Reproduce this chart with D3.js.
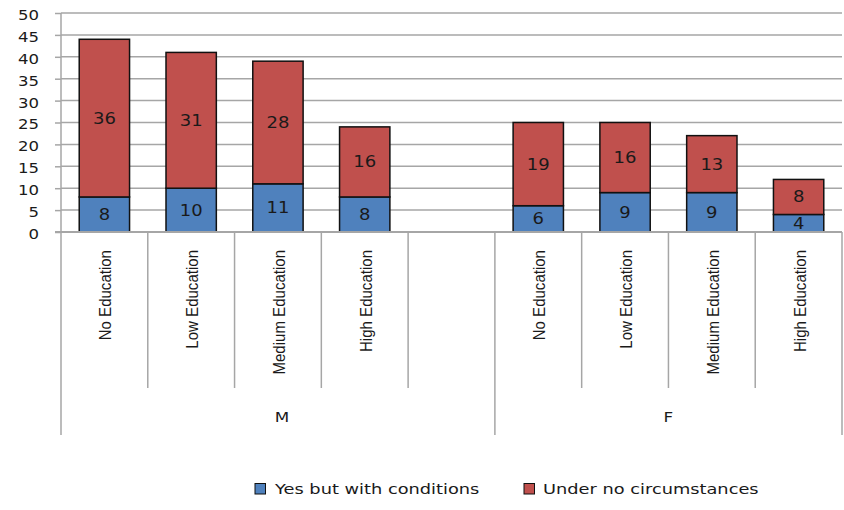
<!DOCTYPE html>
<html>
<head>
<meta charset="utf-8">
<script src="https://cdn.jsdelivr.net/npm/d3@7"></script>
<style>
  body { margin: 0; background: #fff; }
  svg { display: block; }
</style>
</head>
<body>
<svg id="chart" width="844" height="510"></svg>
<script>
// Education level categories, repeated within each sex group
const categories = ["No Education", "Low Education", "Medium Education", "High Education"];
const groups = ["M", "F"];

// Series values per group, in category order
const yesWithConditions = { M: [8, 10, 11, 8], F: [6, 9, 9, 4] };
const underNoCircumstances = { M: [36, 31, 28, 16], F: [19, 16, 13, 8] };

const seriesNames = ["Yes but with conditions", "Under no circumstances"];
const yTicks = [0, 5, 10, 15, 20, 25, 30, 35, 40, 45, 50];

const colors = ["#4F81BD", "#C0504D"];
const wideFont = "DejaVu Sans";
const narrowFont = "Liberation Sans";
const textColor = "#1a1a1a";
const axisColor = "#a6a6a6";

// Slots: four categories for M, an empty slot, then four for F
const slots = [];
groups.forEach((g, gi) => {
  categories.forEach((c, ci) => {
    slots.push({ key: g + "|" + c, group: g, category: c,
      yes: yesWithConditions[g][ci], no: underNoCircumstances[g][ci] });
  });
  if (gi === 0) slots.push({ key: g + "|gap", group: g, category: null });
});

const svg = d3.select("#chart");
const plotLeft = 61, plotRight = 842, plotTop = 13, plotBottom = 232;
const catBottom = 435, sepBottom = 388;

const x = d3.scaleBand().domain(slots.map(d => d.key)).range([plotLeft, plotRight]).padding(0);
const y = d3.scaleLinear().domain([0, 50]).range([plotBottom, plotTop]);

// Horizontal gridlines
svg.append("g")
  .selectAll("line")
  .data(yTicks.filter(t => t > 0))
  .join("line")
  .attr("x1", plotLeft).attr("x2", plotRight)
  .attr("y1", d => y(d)).attr("y2", d => y(d))
  .attr("stroke", axisColor).attr("stroke-width", 1.5);

// Stacked bars with centred value labels
const barW = x.bandwidth() * 0.58;
const barData = slots.filter(d => d.category);
const barG = svg.append("g");
barData.forEach(d => {
  const cx = x(d.key) + x.bandwidth() / 2;
  const segs = [
    { v: d.yes, y0: 0, y1: d.yes, color: colors[0] },
    { v: d.no, y0: d.yes, y1: d.yes + d.no, color: colors[1] }
  ];
  segs.forEach(s => {
    barG.append("rect")
      .attr("x", cx - barW / 2)
      .attr("y", y(s.y1))
      .attr("width", barW)
      .attr("height", y(s.y0) - y(s.y1))
      .attr("fill", s.color)
      .attr("stroke", "#111")
      .attr("stroke-width", 1.5);
    barG.append("text")
      .attr("transform", `translate(${cx},${y((s.y0 + s.y1) / 2)}) scale(1.2,1)`)
      .attr("dy", "0.36em")
      .attr("text-anchor", "middle")
      .attr("font-family", wideFont)
      .attr("font-size", 15)
      .attr("fill", textColor)
      .text(d3.format("d")(s.v));
  });
});

// Y axis
const yAxis = d3.axisLeft(y).tickValues(yTicks).tickSize(6).tickPadding(16);
const yg = svg.append("g").attr("transform", `translate(${plotLeft},0)`).call(yAxis);
yg.select(".domain").remove();
yg.selectAll(".tick line").attr("stroke", axisColor).attr("stroke-width", 1.5);
yg.selectAll(".tick text")
  .attr("x", -22 / 1.18)
  .attr("y", 2)
  .attr("transform", "scale(1.18,1)")
  .attr("font-family", wideFont).attr("font-size", 14).attr("fill", textColor);

// Vertical axis line, extending through the category area
svg.append("line")
  .attr("x1", plotLeft).attr("x2", plotLeft).attr("y1", plotTop).attr("y2", catBottom)
  .attr("stroke", axisColor).attr("stroke-width", 1.5);
// Horizontal base line
svg.append("line")
  .attr("x1", plotLeft - 6).attr("x2", plotRight).attr("y1", plotBottom).attr("y2", plotBottom)
  .attr("stroke", axisColor).attr("stroke-width", 2);

// Category separators: short between categories, full length at group edges
const groupEdges = [x("F|No Education"), plotRight];
slots.forEach((d, i) => {
  if (i === 0) return;
  const xe = x(d.key);
  const full = groupEdges.includes(xe);
  svg.append("line")
    .attr("x1", xe).attr("x2", xe).attr("y1", plotBottom).attr("y2", full ? catBottom : sepBottom)
    .attr("stroke", axisColor).attr("stroke-width", 1.5);
});
svg.append("line")
  .attr("x1", plotRight).attr("x2", plotRight).attr("y1", plotBottom).attr("y2", catBottom)
  .attr("stroke", axisColor).attr("stroke-width", 1.5);

// Rotated category labels
svg.append("g")
  .selectAll("text")
  .data(barData)
  .join("text")
  .attr("transform", d => `translate(${x(d.key) + x.bandwidth() / 2 + 7},250) rotate(-90) scale(0.94,1.07)`)
  .attr("text-anchor", "end")
  .attr("font-family", narrowFont)
  .attr("font-size", 16)
  .attr("fill", textColor)
  .text(d => d.category);

// Group labels
const groupSpan = { M: [plotLeft, x("F|No Education")], F: [x("F|No Education"), plotRight] };
svg.append("g")
  .selectAll("text")
  .data(groups)
  .join("text")
  .attr("transform", g => `translate(${(groupSpan[g][0] + groupSpan[g][1]) / 2 + (g === "M" ? 4 : 0)},422) scale(1.2,1)`)
  .attr("text-anchor", "middle")
  .attr("font-family", wideFont)
  .attr("font-size", 14)
  .attr("fill", textColor)
  .text(g => g);

// Legend
const legendSwatchX = [255, 524];
const legendTextX = [275, 543];
const leg = svg.append("g");
seriesNames.forEach((name, i) => {
  leg.append("rect")
    .attr("x", legendSwatchX[i]).attr("y", 483.5)
    .attr("width", 10.5).attr("height", 10.5)
    .attr("fill", colors[i]).attr("stroke", "#111").attr("stroke-width", 1);
  leg.append("text")
    .attr("transform", `translate(${legendTextX[i]},494) scale(1.27,1)`)
    .attr("font-family", wideFont).attr("font-size", 14)
    .attr("fill", textColor)
    .text(name);
});
</script>
</body>
</html>
